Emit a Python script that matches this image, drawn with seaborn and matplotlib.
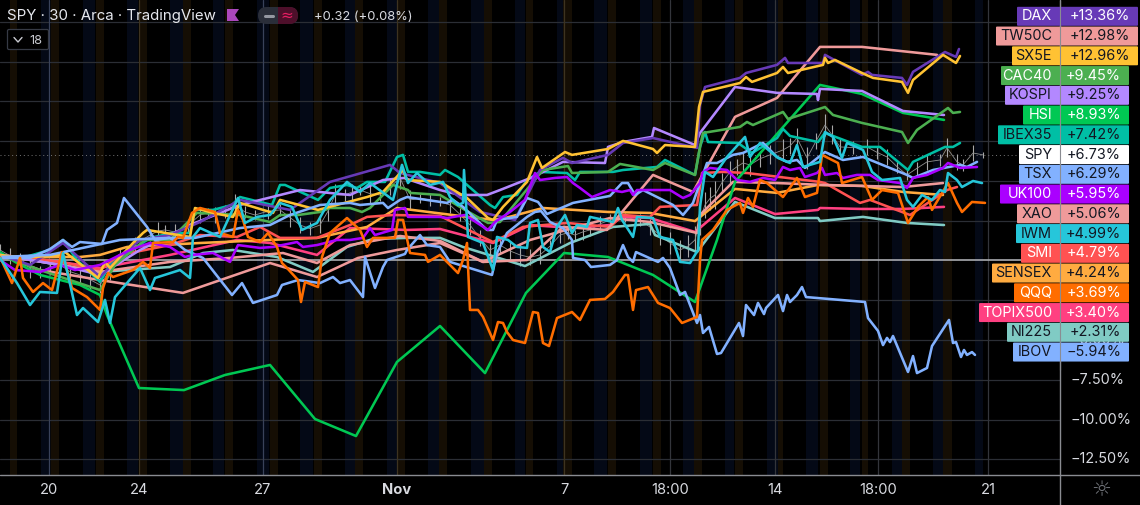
# SPY compare chart, dark TradingView look
import matplotlib
matplotlib.use("Agg")
import matplotlib.pyplot as plt
import seaborn as sns
from matplotlib.patches import FancyBboxPatch, Rectangle

# -------------------------------
# Data: bar position on the time axis, change in percent
# -------------------------------
dax_x = [0,30,63,100,115,140,170,200,240,290,330,390,400,440,480,515,540,563,572,608,623,653,697,700,705,740,746,777,785,788,823,825,862,868,872,902,907,913,945,956,959]
dax_y = [0.35,-0.28,1.10,-1.04,-0.09,1.29,1.60,2.42,3.81,3.18,4.94,6.01,5.50,4.87,3.05,2.55,5.69,6.45,6.13,6.64,7.39,7.70,7.08,9.78,10.91,11.48,11.79,12.30,12.74,12.42,12.42,12.93,11.67,11.86,11.67,11.48,11.04,11.86,13.11,12.80,13.30]

tw50c_x = [0,40,100,183,270,317,358,397,440,483,527,563,607,653,693,735,777,820,862,937]
tw50c_y = [0.35,-0.60,-1.23,-2.04,-0.16,-1.04,0.16,0.66,1.10,-0.09,0.03,2.11,1.92,5.38,4.31,9.03,10.22,13.43,13.43,12.93]

sx5e_x = [0,22,60,65,98,105,110,133,143,147,190,195,213,233,240,273,280,318,367,383,403,407,440,467,488,493,503,527,537,542,565,572,608,623,653,657,665,695,699,703,740,746,752,777,783,788,823,825,828,835,862,873,902,908,913,943,956,960]
sx5e_y = [0.35,0.16,0.35,0.53,-1.10,-0.09,-0.47,1.10,1.73,1.92,1.48,3.30,2.99,2.74,3.62,2.99,3.81,3.18,3.99,4.31,5.69,5.06,4.94,3.93,2.67,2.55,3.37,4.94,6.51,5.82,6.82,6.64,7.01,7.52,7.01,6.76,7.26,7.14,9.65,10.60,11.16,11.54,11.23,11.79,12.17,11.79,12.30,12.74,12.42,12.61,11.79,11.48,11.23,10.54,11.35,12.93,12.42,12.86]

cac40_x = [0,40,100,115,145,170,197,240,270,280,298,320,330,350,362,370,393,408,410,440,465,488,500,543,568,572,608,620,653,665,695,700,703,740,747,753,783,788,825,833,862,902,908,917,948,953,960]
cac40_y = [0.35,-0.60,-1.86,-0.28,1.29,1.29,2.99,2.86,2.42,2.86,2.86,3.05,3.30,3.30,3.05,3.30,4.75,4.43,4.25,4.12,3.18,2.36,2.42,5.69,5.94,5.50,5.57,6.07,5.69,6.13,5.38,7.14,8.02,8.40,8.71,8.52,9.34,8.90,9.65,9.15,8.65,8.08,7.39,8.21,9.59,9.28,9.34]

kospi_x = [0,60,100,140,190,240,300,350,383,404,440,460,487,500,533,563,605,608,623,652,654,695,700,735,777,817,818,820,862,903,944]
kospi_y = [0.35,-0.28,-0.91,0.66,2.23,3.49,4.43,4.12,5.06,5.19,4.43,4.12,4.12,4.43,5.25,6.20,6.13,7.14,7.45,7.77,8.33,7.26,8.02,10.91,10.54,10.47,10.09,10.79,10.66,9.40,9.15]

hsi_x = [0,15,40,80,100,107,139,184,225,270,315,356,397,440,485,526,564,608,653,695,717,735,820,862,903,944]
hsi_y = [0.53,-0.09,-0.91,-1.54,-2.17,-3.43,-8.02,-8.15,-7.20,-6.57,-9.97,-11.04,-6.38,-4.12,-7.08,-2.04,0.47,0.22,-0.91,-2.61,1.29,4.94,11.04,10.47,9.28,8.84]

ibex_x = [0,22,50,63,77,100,110,150,173,190,195,213,232,240,272,280,285,318,330,347,357,367,385,397,403,408,420,440,445,458,490,495,503,517,527,540,567,575,580,613,623,657,665,695,700,705,708,738,752,777,783,790,818,825,862,880,908,913,945,953,960]
ibex_y = [0.35,0.16,0.66,1.29,0.03,-1.35,-0.28,1.42,1.73,1.73,3.18,3.18,3.49,3.99,3.49,4.75,4.75,3.81,4.56,4.75,4.56,4.94,4.94,6.51,6.64,5.57,5.57,5.38,5.69,5.25,3.49,3.30,3.99,4.12,5.06,5.57,5.50,5.06,5.57,5.57,5.69,5.88,6.32,5.38,7.14,8.08,7.45,7.39,6.76,7.70,8.27,7.83,7.45,8.02,7.14,7.14,5.69,6.20,7.14,7.14,7.39]

spy_x = [0,10,20,30,40,50,60,70,80,90,
         100,110,120,135,150,158,165,175,188,200,
         208,215,225,235,245,255,268,280,290,300,
         310,320,328,335,345,352,360,370,380,390,
         400,410,420,430,440,450,460,470,480,490,
         500,510,520,530,540,550,560,568,575,583,
         590,600,610,625,640,650,660,670,680,688,
         695,700,705,710,715,722,730,737,743,750,
         760,770,783,790,797,807,816,825,832,840,
         853,867,877,887,897,907,917,927,940,947,
         957,963,973,983]
spy_y = [0.66,0.3,0.16,-0.5,-0.72,-0.4,-0.28,-0.7,-0.91,-1.2,
         -1.54,-0.6,0.35,1.0,1.6,1.85,1.92,1.79,2.2,2.86,
         3.0,2.86,3.1,3.49,3.05,2.86,3.1,3.18,2.7,2.23,
         2.0,2.23,3.1,4.12,4.12,4.3,4.43,4.2,4.12,4.6,
         5.19,3.81,3.9,3.81,3.7,3.49,2.9,2.23,1.4,0.66,
         0.97,0.6,0.35,0.2,0.35,0.9,1.6,1.75,1.6,1.8,
         1.92,2.3,2.55,2.7,2.55,2.1,1.6,1.1,0.66,0.9,
         1.29,2.6,3.49,3.9,4.12,4.9,5.57,5.9,6.13,6.01,
         6.4,6.64,6.95,7.2,7.7,6.45,7.5,8.52,7.9,7.14,
         7.1,7.14,6.8,6.51,5.9,5.38,5.8,6.2,6.32,7.08,
         6.2,6.01,6.76,6.64]
spy_swing = [0.4,0.5,0.3,0.6,0.4,0.5,0.7,0.4,0.5,0.6,
             0.5,0.6,0.4,0.5,0.4,0.6,0.3,0.5,0.4,0.5,
             0.3,0.5,0.4,0.7,0.4,0.3,0.5,0.4,0.6,0.5,
             0.4,0.5,0.6,0.7,0.4,0.5,0.3,0.6,0.4,0.5,
             0.7,0.6,0.3,0.4,0.3,0.5,0.4,0.6,0.5,0.4,
             0.5,0.6,0.7,0.5,0.6,0.4,0.5,0.4,0.3,0.5,
             0.4,0.5,0.4,0.3,0.4,0.5,0.6,0.7,0.6,0.7,
             0.9,1.0,0.8,0.7,0.9,0.6,0.7,0.5,0.6,0.7,
             0.5,0.6,0.7,0.5,0.6,0.7,0.5,0.7,0.6,0.5,
             0.4,0.5,0.4,0.5,0.4,0.3,0.4,0.5,0.4,0.6,
             0.5,0.4,0.5,0.2]

tsx_x = [0,50,120,170,195,240,270,290,320,350,360,383,388,400,407,447,453,463,487,493,497,517,527,538,547,573,610,622,628,635,643,673,683,693,707,717,733,743,763,777,787,797,805,825,843,863,907,913,933,960,967,977]
tsx_y = [0.22,0.35,1.29,1.42,1.42,2.04,2.23,2.86,3.49,3.62,3.49,3.62,3.30,3.81,3.99,3.62,3.81,3.37,1.92,1.92,2.55,2.74,3.93,3.68,2.92,3.62,4.06,4.87,4.87,4.12,4.43,3.49,2.86,3.62,6.13,6.13,6.64,6.76,7.39,6.51,6.20,6.32,5.82,6.82,6.32,6.51,5.38,5.19,5.69,6.01,5.88,6.20]

uk100_x = [0,15,40,60,75,100,130,150,170,185,193,213,230,238,260,273,297,303,317,337,350,363,370,375,392,395,405,408,440,447,465,488,495,510,525,535,540,555,567,573,580,592,610,622,630,633,637,670,683,690,700,703,710,727,737,750,763,775,783,790,800,805,817,822,825,837,843,857,870,878,900,907,913,927,943,948,960,977]
uk100_y = [0.03,-0.60,-0.72,-0.28,-0.60,-0.28,0.66,1.10,0.85,0.22,0.35,0.47,-0.09,0.97,0.79,0.85,1.16,0.85,0.97,1.29,1.29,1.42,2.04,1.60,1.92,3.18,3.30,2.74,2.74,2.67,2.86,1.92,2.42,3.05,3.81,5.50,5.06,5.19,5.25,4.87,4.56,3.99,4.43,4.31,4.43,4.12,4.43,4.43,3.93,4.12,4.87,5.57,5.82,5.69,5.06,4.94,5.19,5.06,5.88,5.69,5.82,5.25,5.50,5.82,5.38,5.50,5.19,5.38,5.38,5.06,4.87,4.56,5.19,5.38,5.82,6.13,5.82,5.88]

xao_x = [0,60,100,170,230,283,317,350,400,440,483,530,573,610,650,697,700,733,777,823,862,903,943]
xao_y = [0.35,-0.28,-0.72,-0.09,0.16,0.47,-0.16,0.97,1.54,1.23,-0.09,1.29,2.04,2.67,2.42,1.73,2.86,4.94,4.87,4.75,4.69,4.62,4.87]

iwm_x = [0,17,30,40,57,63,77,83,98,105,110,115,140,150,155,180,190,193,200,220,238,245,257,270,280,292,302,317,330,347,360,370,393,402,408,417,430,443,450,458,463,464,468,483,493,497,508,517,527,530,538,543,550,557,565,572,577,587,590,613,618,622,633,637,653,660,673,680,690,698,700,705,713,727,745,750,760,778,790,797,803,820,825,833,842,847,863,868,872,882,900,907,913,922,932,940,945,948,957,962,973,982]
iwm_y = [0.16,-1.42,-2.80,-1.98,-2.04,0.47,-3.43,-2.99,-3.87,-2.48,-3.93,-2.30,-0.47,-1.86,-1.10,-0.60,-1.10,1.48,2.04,1.48,3.93,2.36,2.74,2.86,3.62,3.37,1.92,2.36,3.81,4.94,4.31,4.87,3.81,6.01,4.87,5.50,4.75,4.94,3.99,3.49,3.62,5.69,1.48,1.10,-0.60,1.48,1.29,0.85,0.79,2.36,2.55,0.85,0.53,2.11,2.86,1.73,2.23,2.11,2.74,2.42,3.30,2.55,1.48,2.74,2.67,1.48,1.29,-0.09,-0.16,0.66,3.37,5.57,5.25,6.51,7.77,6.51,7.39,6.45,6.13,7.26,5.88,6.20,8.08,7.77,6.45,7.39,6.95,6.20,5.57,5.06,5.19,3.81,3.37,4.12,3.81,4.43,4.31,5.50,5.06,4.62,5.00,4.87]

smi_x = [0,60,100,120,170,200,237,260,280,317,350,367,393,440,493,523,567,610,623,650,660,697,700,702,723,747,820,825,860,870,910,947,957]
smi_y = [0.35,-0.09,-0.60,0.35,0.97,1.60,1.48,2.11,1.42,1.42,2.23,2.74,2.86,2.80,1.16,2.11,2.36,2.11,2.86,2.74,3.37,3.49,4.62,5.50,5.57,5.50,4.94,4.87,3.62,3.81,2.86,4.43,4.62]

sensex_x = [0,60,80,100,127,200,317,367,397,460,493,505,543,608,650,695,735,777,818,862,903,943]
sensex_y = [0.16,0.22,0.22,0.35,0.85,1.10,1.42,2.11,3.30,2.80,2.55,2.67,3.30,3.05,2.99,2.48,4.50,4.25,4.75,4.69,4.31,4.12]

qqq_x = [0,12,20,23,33,43,52,62,72,87,100,103,108,113,133,143,150,153,173,178,183,192,200,215,220,233,238,243,248,260,268,277,282,287,298,301,305,318,322,330,347,360,367,373,395,398,403,410,425,428,440,450,458,463,467,470,478,483,493,498,503,507,513,525,533,538,543,549,557,572,580,590,605,613,625,628,633,636,648,658,670,682,697,700,702,713,727,740,743,748,753,760,767,783,797,805,817,822,838,842,862,872,882,898,908,918,928,932,948,957,962,972,985]
qqq_y = [0.22,-1.42,0.16,-1.10,-1.98,-1.42,-1.86,0.53,-1.73,-2.30,-3.11,-1.73,-0.79,-1.04,-0.60,-0.09,-0.47,1.10,1.16,1.48,1.42,2.99,3.30,3.05,1.73,1.48,3.18,2.55,1.48,1.16,1.73,0.85,-0.16,-0.47,-1.23,-2.61,-1.35,-1.67,0.22,1.73,2.67,1.92,0.85,1.42,1.42,2.55,2.55,0.47,0.35,-0.09,0.35,-0.28,-0.79,0.03,1.10,-3.11,-3.11,-3.55,-5.00,-3.87,-3.93,-4.50,-5.00,-5.19,-3.24,-3.30,-5.19,-5.38,-3.62,-3.24,-3.74,-2.48,-2.42,-1.98,-0.91,-0.91,-3.11,-1.86,-1.67,-2.67,-2.99,-3.93,-3.55,0.03,1.29,1.92,3.18,3.62,2.99,3.93,3.37,5.06,4.87,3.99,5.19,3.99,4.25,6.64,6.13,4.87,5.25,3.81,4.43,4.25,2.36,3.37,3.99,3.18,4.87,3.62,3.05,3.68,3.62]

topix_x = [0,60,100,170,237,270,317,350,407,440,493,530,573,610,622,650,695,735,775,818,820,862,903,944]
topix_y = [0.35,-0.09,-0.47,0.35,1.29,1.10,0.35,2.04,1.92,1.98,1.10,2.23,2.04,2.23,2.74,2.67,1.79,3.93,2.92,3.18,3.30,3.24,3.24,3.37]

ni225_x = [0,60,100,170,203,233,277,313,347,373,407,440,463,525,570,613,650,655,697,735,775,818,820,863,907,944]
ni225_y = [0.35,-0.28,-0.72,-0.41,0.47,0.66,0.22,-0.72,0.85,1.35,1.42,1.42,0.85,-0.35,1.10,2.11,2.30,1.60,0.53,3.68,2.67,2.67,2.48,2.74,2.36,2.23]

ibov_x = [0,30,50,63,72,80,102,107,117,124,147,155,170,185,203,232,242,253,277,282,298,320,333,340,350,363,365,375,383,387,405,407,420,427,440,450,492,497,507,527,535,541,550,563,572,573,585,591,610,617,623,628,633,636,658,663,670,680,685,697,700,703,709,717,721,739,743,746,754,758,764,766,778,783,787,790,797,802,806,865,868,878,883,887,890,893,908,913,917,927,932,949,953,956,961,964,967,972,975]
ibov_y = [0.16,0.16,0.72,1.29,0.85,1.16,1.04,1.92,2.36,3.93,2.11,1.29,1.42,0.66,0.16,-2.17,-1.42,-2.67,-2.17,-1.54,-1.23,-1.42,-1.04,-1.42,-1.23,-2.30,0.22,-1.73,-0.41,0.03,0.41,0.66,1.60,0.97,0.85,-0.09,-0.91,0.47,1.73,2.74,3.05,3.11,2.42,2.04,1.29,0.16,0.03,-0.41,-0.28,0.03,0.97,0.22,-0.09,0.53,-0.09,0.16,-0.47,-2.17,-1.98,-3.93,-3.43,-4.56,-4.18,-5.88,-5.82,-3.93,-4.75,-2.80,-3.43,-2.67,-3.37,-2.99,-2.17,-3.18,-2.17,-2.61,-2.17,-1.67,-2.30,-2.61,-3.62,-4.43,-5.32,-4.87,-5.13,-4.75,-7.01,-6.01,-7.08,-6.76,-5.38,-3.74,-5.19,-5.13,-6.07,-5.63,-5.94,-5.76,-5.94]

# legend column on the right, top to bottom
tag_names = ["DAX", "TW50C", "SX5E", "CAC40", "KOSPI", "HSI", "IBEX35", "SPY", "TSX", "UK100", "XAO", "IWM", "SMI", "SENSEX", "QQQ", "TOPIX500", "NI225", "IBOV"]
tag_values = ["+13.36%", "+12.98%", "+12.96%", "+9.45%", "+9.25%", "+8.93%", "+7.42%", "+6.73%", "+6.29%", "+5.95%", "+5.06%", "+4.99%", "+4.79%", "+4.24%", "+3.69%", "+3.40%", "+2.31%", "\u22125.94%"]
tag_colors = ["#673ab7", "#ef9a9a", "#ffc233", "#4caf50", "#b388ff", "#00c853", "#00bfa5", "#ffffff", "#82b1ff", "#aa00ff", "#ef9a9a", "#26c6da", "#ff5252", "#ffab40", "#ff6d00", "#ff4081", "#80cbc4", "#82b1ff"]
tag_text = ["w", "k", "k", "w", "k", "w", "k", "k", "k", "w", "k", "k", "w", "k", "w", "w", "k", "k"]
tag_left = [1017, 996, 1012, 1001, 1005, 1023, 998, 1019, 1019, 1000, 1017, 1016, 1021, 992, 1014, 979, 1007, 1013]

x_ticks = [49, 139, 263, 397, 564, 670, 775, 878, 988]
x_labels = ["20", "24", "27", "Nov", "7", "18:00", "14", "18:00", "21"]
tick_colors = ["#39425a", "#3d3320", "#39425a", "#3d3320", "#3d3320", "#33353b", "#33353b", "#33353b", "#33353b"]
y_ticks = [-12.5, -10, -7.5, -5, -2.5, 0, 2.5, 5, 7.5, 10, 12.5, 15]

# pre and post market shading
pre_start = [41, 83, 127, 170, 213, 257, 300, 345, 387, 428, 471, 515, 557, 594, 640, 683, 725, 767, 806, 850, 892, 933, 975]
pre_end = [49, 95, 138, 183, 224, 269, 313, 355, 397, 439, 484, 525, 563, 607, 652, 694, 734, 778, 818, 860, 902, 943, 983]
post_start = [10, 51, 96, 139, 183, 225, 270, 314, 355, 397, 439, 484, 526, 563, 608, 653, 694, 735, 778, 820, 862, 902, 943]
post_end = [17, 59, 104, 147, 191, 233, 278, 322, 363, 405, 447, 492, 533, 572, 616, 661, 702, 743, 783, 828, 868, 910, 952]

# -------------------------------
# Config
# -------------------------------
BG = "#000000"
TEXT = "#d8dae0"
sns.set_theme(style="dark", rc={"axes.facecolor": BG, "figure.facecolor": BG})
plt.rcParams["font.family"] = ["Inter", "DejaVu Sans"]

fig = plt.figure(figsize=(11.4, 5.05), dpi=100)
ax = fig.add_axes([0, 30 / 505, 1060 / 1140, 475 / 505])
ax.set_xlim(0, 1060)
ax.set_ylim(-13.49, 16.38)

# -------------------------------
# Background
# -------------------------------
for a, b in zip(pre_start, pre_end):
    ax.axvspan(a, b, color="#040916", lw=0, zorder=0)
for a, b in zip(post_start, post_end):
    ax.axvspan(a, b, color="#150e04", lw=0, zorder=0)
for tick in y_ticks:
    if tick != 0:
        ax.axhline(tick, color="#2b2e35", lw=0.9, zorder=1)
for tick, col in zip(x_ticks, tick_colors):
    ax.axvline(tick, color=col, lw=0.9, zorder=1)
ax.axhline(0, color="#a9abb0", lw=1.2, zorder=1)
ax.axhline(spy_y[-1], color="#777777", lw=0.7, ls=(0, (1, 3)), zorder=1)

# -------------------------------
# Series
# -------------------------------
ax.vlines(spy_x, [c - s for c, s in zip(spy_y, spy_swing)], [c + s for c, s in zip(spy_y, spy_swing)],
          color="#a8a8a8", lw=0.8, zorder=2)
sns.lineplot(x=spy_x, y=spy_y, color="#8f8f8f", lw=0.6, estimator=None, sort=False, ax=ax, zorder=2)

series = [
    (ni225_x, ni225_y, "#80cbc4"),
    (topix_x, topix_y, "#ff4081"),
    (sensex_x, sensex_y, "#ffab40"),
    (smi_x, smi_y, "#ff5252"),
    (xao_x, xao_y, "#ef9a9a"),
    (tw50c_x, tw50c_y, "#ef9a9a"),
    (hsi_x, hsi_y, "#00c853"),
    (ibex_x, ibex_y, "#00bfa5"),
    (kospi_x, kospi_y, "#b388ff"),
    (cac40_x, cac40_y, "#4caf50"),
    (dax_x, dax_y, "#673ab7"),
    (sx5e_x, sx5e_y, "#ffc233"),
    (tsx_x, tsx_y, "#82b1ff"),
    (ibov_x, ibov_y, "#82b1ff"),
    (uk100_x, uk100_y, "#aa00ff"),
    (qqq_x, qqq_y, "#ff6d00"),
    (iwm_x, iwm_y, "#26c6da"),
]
for xs, ys, col in series:
    sns.lineplot(x=xs, y=ys, color=col, lw=1.85, estimator=None, sort=False, ax=ax, zorder=3)

ax.set_xticks([])
ax.set_yticks([])
ax.set_xlabel("")
ax.set_ylabel("")
for side in ax.spines:
    ax.spines[side].set_visible(False)

# -------------------------------
# Overlay in figure pixels: labels, price scale, header
# -------------------------------
ov = fig.add_axes([0, 0, 1, 1], facecolor="none")
ov.set_xlim(0, 1140)
ov.set_ylim(505, 0)
ov.axis("off")

ov.plot([0, 1140], [475, 475], color="#8a8c92", lw=1.0)
ov.plot([1060, 1060], [0, 505], color="#8a8c92", lw=1.0)

# time axis
for pos, lab in zip(x_ticks, x_labels):
    ov.text(pos, 490, lab, color=TEXT, fontsize=10.6, ha="center", va="center",
            fontweight="bold" if lab == "Nov" else "normal")
ov.text(1101, 490, "\u263c", color="#6f7278", fontsize=16, ha="center", va="center", family="DejaVu Sans")

# price scale, the rest sits behind the tags
for pos, lab in [(380, "\u22127.50%"), (419.5, "\u221210.00%"), (459, "\u221212.50%"), (340, "\u22125.00%")]:
    ov.text(1070, pos, lab, color=TEXT, fontsize=10.4, ha="left", va="center", zorder=4)

for i, (name, val, col, txt, left) in enumerate(zip(tag_names, tag_values, tag_colors, tag_text, tag_left)):
    yc = 16.3 + 19.75 * i
    right = 1138 if i < 3 else 1129
    h = 19.0
    ov.add_patch(FancyBboxPatch((left + 1, yc - h / 2 + 1), right - left - 2, h - 2,
                                boxstyle="round,pad=1", fc=col, ec="none", zorder=5))
    fg = "#ffffff" if txt == "w" else "#131722"
    ov.text(1052, yc, name, color=fg, fontsize=10.4, ha="right", va="center", zorder=6)
    ov.text(right - 8, yc, val, color=fg, fontsize=10.4, ha="right", va="center", zorder=6)
ov.plot([1060, 1060], [0, 370], color="#8a8c92", lw=0.8, zorder=7)

# header
ov.text(7, 16, "SPY \u00b7 30 \u00b7 Arca \u00b7 TradingView", color="#e6e8ee", fontsize=10.8, va="center")
ov.fill([227, 239, 235, 239, 227], [9, 9, 15, 21, 21], color="#ab47bc", lw=0)
ov.add_patch(FancyBboxPatch((258, 7), 40, 17, boxstyle="round,pad=0,rounding_size=8.5", fc="#2a2e39", ec="none", zorder=1))
ov.add_patch(FancyBboxPatch((278, 7), 20, 17, boxstyle="round,pad=0,rounding_size=8.5", fc="#4d0f2a", ec="none", zorder=2))
ov.add_patch(Rectangle((278, 7), 8, 17, fc="#4d0f2a", ec="none", zorder=2))
ov.plot([265, 273], [15.5, 15.5], color="#9598a1", lw=2.2, solid_capstyle="round", zorder=3)
ov.text(287, 15.5, "\u2248", color="#e91e63", fontsize=11, ha="center", va="center", zorder=3, family="DejaVu Sans")
ov.text(314, 17, "+0.32 (+0.08%)", color=TEXT, fontsize=9.3, va="center")

ov.add_patch(FancyBboxPatch((9, 31), 38, 17, boxstyle="round,pad=1.5", fc="#000000", ec="#363a45", lw=0.9))
ov.plot([14, 18, 22], [37.5, 42, 37.5], color="#c8cad0", lw=1.0)
ov.text(29, 40.5, "18", color="#c8cad0", fontsize=9.2, va="center")

fig.savefig("out.png", dpi=100, facecolor=BG)
